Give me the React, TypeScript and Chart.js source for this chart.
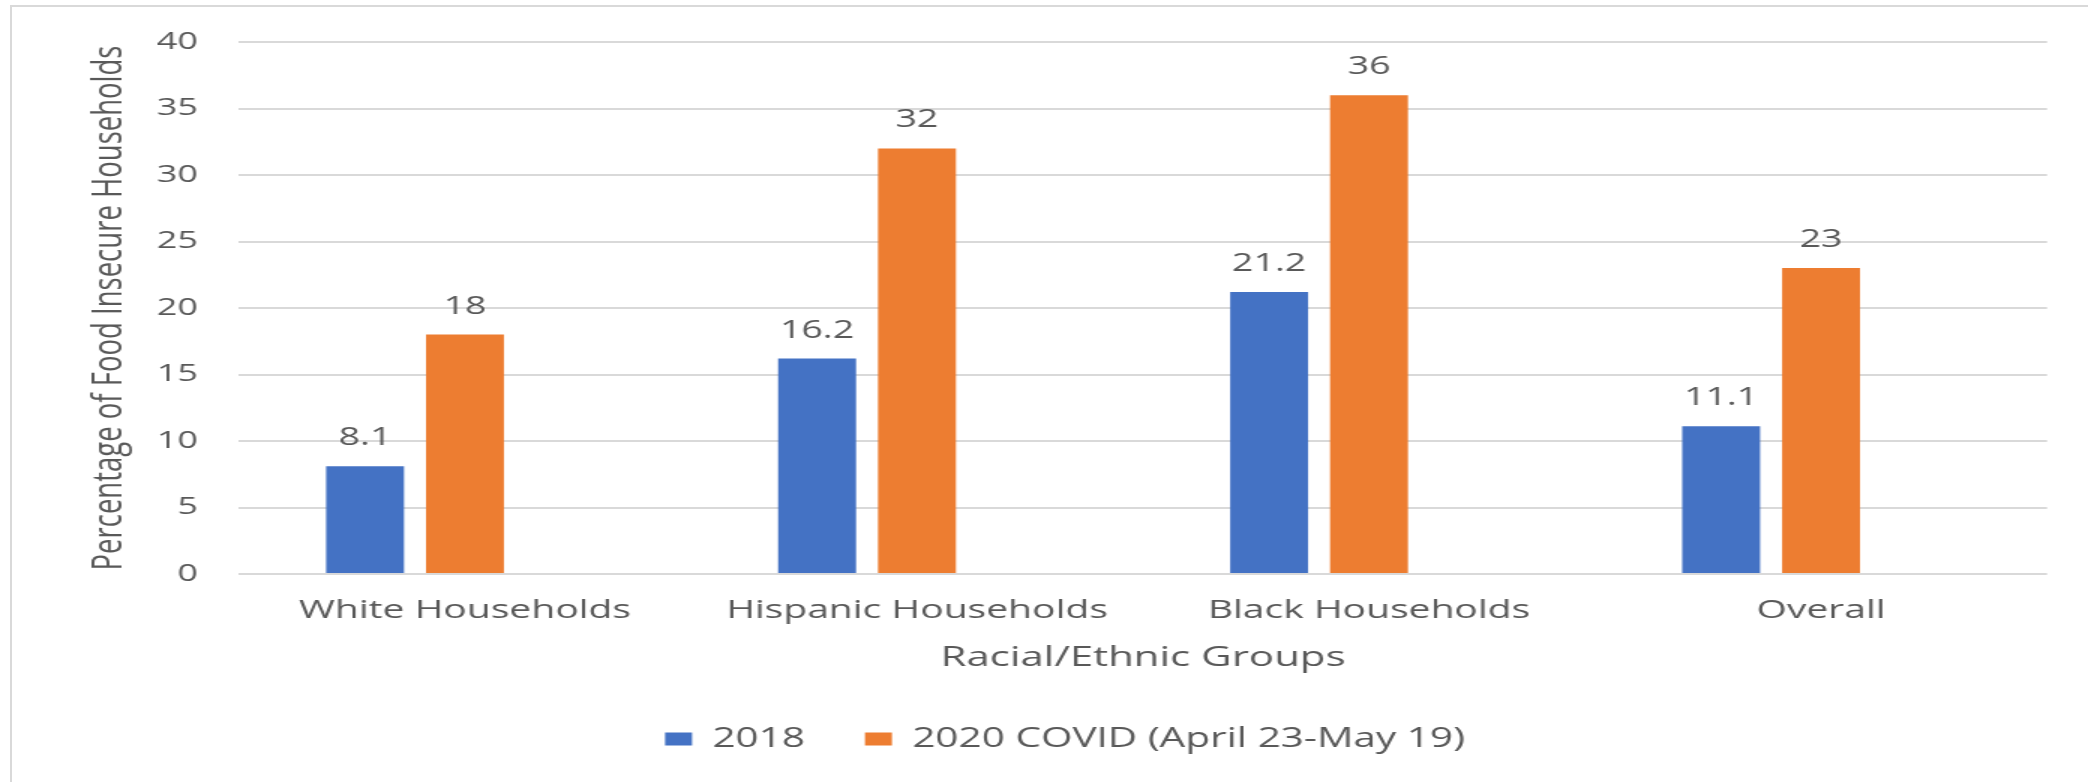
import { useEffect, useRef } from 'react';
import { Chart, registerables } from 'chart.js';

Chart.register(...registerables);

// ---- data ----
const categories = ['White Households', 'Hispanic Households', 'Black Households', 'Overall'];
const values2018 = [8.1, 16.2, 21.2, 11.1];
const values2020 = [18, 32, 36, 23];
const emptySeries = [null, null, null, null];
const seriesNames = ['2018', '2020 COVID (April 23-May 19)'];
const yMin = 0;
const yMax = 40;
const yStep = 5;
const xTitle = 'Racial/Ethnic Groups';
const yTitle = 'Percentage of Food Insecure Households';

// ---- presentation ----
const STRETCH = 1.5;
const PAGE_W = 2088;
const PAGE_H = 782;
const W = PAGE_W / STRETCH;
const H = PAGE_H;
const FONT = '"Open Sans", "DejaVu Sans", sans-serif';
const TEXT = '#595959';
const BLUE = '#4472C4';
const ORANGE = '#ED7D31';
const GRID = '#d9d9d9';

export default function App() {
  const ref = useRef<HTMLCanvasElement>(null);

  useEffect(() => {
    const canvas = ref.current;
    if (!canvas) return;

    const valueLabels = {
      id: 'valueLabels',
      afterDatasetsDraw(chart: any) {
        const ctx = chart.ctx;
        ctx.save();
        ctx.font = `25px ${FONT}`;
        ctx.fillStyle = TEXT;
        ctx.textAlign = 'center';
        ctx.textBaseline = 'alphabetic';
        [0, 1].forEach((i) => {
          const meta = chart.getDatasetMeta(i);
          meta.data.forEach((el: any, j: number) => {
            const v = chart.data.datasets[i].data[j];
            if (v == null) return;
            ctx.fillText(String(v), el.x, el.y - 21);
          });
        });
        ctx.restore();
      },
    };

    const chart = new Chart(canvas, {
      type: 'bar',
      data: {
        labels: categories,
        datasets: [
          {
            label: seriesNames[0],
            data: values2018,
            backgroundColor: BLUE,
            barPercentage: 0.78,
            categoryPercentage: 0.663,
          },
          {
            label: seriesNames[1],
            data: values2020,
            backgroundColor: ORANGE,
            barPercentage: 0.78,
            categoryPercentage: 0.663,
          },
          {
            label: '',
            data: emptySeries as any,
            backgroundColor: 'rgba(0,0,0,0)',
            barPercentage: 0.78,
            categoryPercentage: 0.663,
          },
        ],
      },
      options: {
        responsive: false,
        animation: false,
        devicePixelRatio: 1,
        layout: {
          padding: { left: 55.3, right: 27.3, top: 42, bottom: 19.5 },
        },
        plugins: {
          tooltip: { enabled: false },
          title: { display: false },
          legend: {
            display: true,
            position: 'bottom',
            labels: {
              color: TEXT,
              font: { family: FONT, size: 27 },
              boxWidth: 18,
              boxHeight: 13,
              padding: 40,
              filter: (item: any) => item.datasetIndex < 2,
            },
          },
        },
        scales: {
          x: {
            grid: { display: false, drawTicks: false },
            border: { display: false },
            ticks: {
              color: TEXT,
              font: { family: FONT, size: 26 },
              padding: 21,
              autoSkip: false,
              maxRotation: 0,
              minRotation: 0,
            },
            title: {
              display: true,
              text: xTitle,
              color: TEXT,
              font: { family: FONT, size: 28 },
              padding: { top: 0, bottom: 10.2 },
            },
            afterFit: (scale: any) => {
              scale.height = 111.5;
            },
          },
          y: {
            min: yMin,
            max: yMax,
            grid: { color: GRID, lineWidth: 2, drawTicks: false },
            border: { display: false },
            ticks: {
              stepSize: yStep,
              color: TEXT,
              font: { family: FONT, size: 24 },
              padding: 27.3,
            },
            title: {
              display: true,
              text: yTitle,
              color: TEXT,
              font: { family: FONT, size: 27.5 },
              padding: { top: 1, bottom: 0 },
            },
            afterFit: (scale: any) => {
              scale.width = 104;
            },
          },
        },
      },
      plugins: [valueLabels],
    });

    return () => chart.destroy();
  }, []);

  return (
    <div
      style={{
        position: 'fixed',
        left: 0,
        top: 0,
        width: PAGE_W,
        height: PAGE_H,
        overflow: 'hidden',
        background: '#ffffff',
      }}
    >
      <div
        style={{
          position: 'absolute',
          left: 10,
          top: 5,
          right: -10,
          bottom: -10,
          borderLeft: `2px solid ${GRID}`,
          borderTop: `2px solid ${GRID}`,
        }}
      />
      <canvas
        ref={ref}
        width={W}
        height={H}
        style={{
          position: 'absolute',
          left: 0,
          top: 0,
          width: W,
          height: H,
          transform: `scaleX(${STRETCH})`,
          transformOrigin: '0 0',
        }}
      />
    </div>
  );
}
